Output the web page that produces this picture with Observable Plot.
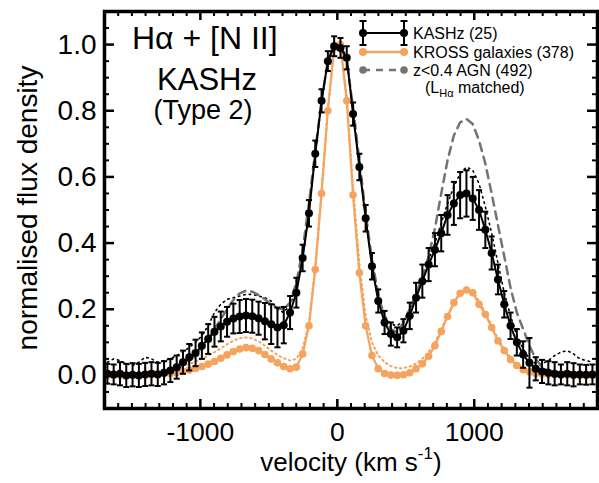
<!DOCTYPE html>
<html><head><meta charset="utf-8">
<script src="https://cdn.jsdelivr.net/npm/d3@7"></script>
<script src="https://cdn.jsdelivr.net/npm/@observablehq/plot@0.6"></script>
<style>body{margin:0;background:#fff;} #chart{width:599px;height:483px;}</style>
</head><body><div id="chart"></div>
<script>
const velocity = [-1679,-1633,-1587,-1541,-1495,-1449,-1403,-1357,-1311,-1265,-1219,-1173,-1127,-1081,-1035,-989,-943,-897,-851,-805,-759,-713,-667,-621,-575,-529,-483,-437,-391,-345,-299,-253,-207,-161,-115,-69,-23,23,69,115,161,207,253,299,345,391,437,483,529,575,621,667,713,759,805,851,897,943,989,1035,1081,1127,1173,1219,1265,1311,1357,1403,1449,1495,1541,1587,1633,1679,1725,1771,1817,1863];
const kashz = [0.005,0.003,0.005,0.0,0.002,0.0,0.003,0.005,0.003,0.008,0.015,0.025,0.04,0.055,0.068,0.09,0.11,0.132,0.148,0.162,0.172,0.178,0.181,0.179,0.173,0.164,0.155,0.145,0.152,0.19,0.25,0.355,0.49,0.67,0.83,0.95,0.995,0.99,0.96,0.79,0.63,0.475,0.33,0.225,0.16,0.125,0.115,0.135,0.18,0.235,0.285,0.335,0.38,0.43,0.485,0.52,0.545,0.55,0.535,0.5,0.44,0.37,0.29,0.215,0.15,0.1,0.063,0.038,0.02,0.012,0.008,0.005,0.003,0.005,0.002,0.003,0.002,0.003];
const kashzErr = [0.03,0.03,0.035,0.035,0.035,0.035,0.035,0.035,0.035,0.035,0.035,0.035,0.035,0.04,0.04,0.04,0.045,0.045,0.045,0.045,0.045,0.05,0.05,0.05,0.05,0.055,0.06,0.06,0.055,0.05,0.045,0.04,0.04,0.04,0.035,0.03,0.03,0.03,0.035,0.035,0.04,0.04,0.04,0.035,0.035,0.035,0.03,0.035,0.04,0.045,0.05,0.05,0.05,0.055,0.06,0.065,0.07,0.07,0.065,0.06,0.055,0.05,0.045,0.04,0.04,0.04,0.04,0.075,0.035,0.035,0.035,0.035,0.03,0.035,0.035,0.03,0.03,0.03];
const kashzDotted = [0.04,0.05,0.045,0.035,0.03,0.04,0.055,0.05,0.04,0.045,0.05,0.06,0.07,0.085,0.1,0.12,0.15,0.19,0.215,0.23,0.235,0.24,0.245,0.245,0.24,0.235,0.225,0.2,0.19,0.215,0.26,0.36,0.5,0.67,0.83,0.95,1.0,1.0,0.96,0.8,0.64,0.48,0.34,0.24,0.18,0.155,0.15,0.165,0.2,0.25,0.3,0.35,0.4,0.46,0.52,0.57,0.61,0.63,0.62,0.58,0.51,0.43,0.34,0.25,0.18,0.12,0.08,0.05,0.035,0.035,0.045,0.06,0.07,0.075,0.065,0.05,0.045,0.04];
const kross = [0.0,0.0,0.0,0.0,0.0,0.001,0.002,0.002,0.003,0.005,0.006,0.009,0.012,0.016,0.021,0.027,0.034,0.042,0.052,0.062,0.072,0.08,0.084,0.082,0.075,0.063,0.05,0.038,0.027,0.02,0.025,0.065,0.15,0.32,0.55,0.8,0.99,1.0,0.83,0.545,0.31,0.15,0.06,0.02,0.006,0.001,0.0,0.002,0.008,0.02,0.035,0.058,0.09,0.133,0.178,0.22,0.248,0.258,0.25,0.215,0.185,0.145,0.105,0.075,0.048,0.03,0.017,0.01,0.006,0.004,0.003,0.002,0.001,0.001,0.0,0.0,0.0,0.0];
const krossDotted = [0.005,0.005,0.005,0.006,0.007,0.008,0.01,0.012,0.014,0.017,0.02,0.024,0.029,0.035,0.042,0.05,0.06,0.07,0.082,0.094,0.105,0.112,0.115,0.112,0.103,0.09,0.075,0.062,0.052,0.045,0.05,0.08,0.16,0.33,0.56,0.81,0.99,1.0,0.84,0.57,0.34,0.18,0.1,0.06,0.04,0.028,0.022,0.022,0.027,0.036,0.05,0.07,0.1,0.14,0.18,0.22,0.25,0.263,0.255,0.225,0.19,0.15,0.11,0.08,0.055,0.036,0.024,0.016,0.012,0.01,0.008,0.007,0.006,0.006,0.005,0.005,0.005,0.005];
const agn = [0.0,0.0,0.0,0.0,0.0,0.0,0.001,0.002,0.003,0.006,0.01,0.018,0.03,0.045,0.062,0.085,0.11,0.14,0.17,0.2,0.228,0.248,0.256,0.253,0.243,0.23,0.215,0.203,0.2,0.22,0.28,0.38,0.52,0.68,0.83,0.95,1.0,0.995,0.95,0.81,0.65,0.49,0.35,0.245,0.175,0.14,0.13,0.16,0.2,0.245,0.295,0.36,0.445,0.55,0.65,0.725,0.765,0.775,0.76,0.71,0.64,0.55,0.455,0.36,0.265,0.19,0.14,0.09,0.05,0.025,0.013,0.007,0.003,0.0,0.0,0.0,0.0,0.0];
const xTicksMajor = [-1000, 0, 1000];
const xTicksMinor = [-1700,-1600,-1500,-1400,-1300,-1200,-1100,-900,-800,-700,-600,-500,-400,-300,-200,-100,100,200,300,400,500,600,700,800,900,1100,1200,1300,1400,1500,1600,1700,1800,1900];
const yTicksMajor = [0.0, 0.2, 0.4, 0.6, 0.8, 1.0];
const yTicksMinor = [-0.1,-0.05,0.05,0.1,0.15,0.25,0.3,0.35,0.45,0.5,0.55,0.65,0.7,0.75,0.85,0.9,0.95,1.05,1.1];
const seriesNames = ["KASHz (25)", "KROSS galaxies (378)", "z<0.4 AGN (492)"];

const ORANGE = "#f5a35d";
const GRAY = "#737373";
const FONT = "Liberation Sans, Arial, Helvetica, sans-serif";

const rows = velocity.map((v, i) => ({
  v, k: kashz[i], lo: kashz[i] - kashzErr[i], hi: kashz[i] + kashzErr[i],
  kd: kashzDotted[i], r: kross[i], rd: krossDotted[i], a: agn[i]
}));

const W = 599, H = 483, mL = 104, mR = 2, mT = 11, mB = 75;
const innerW = W - mL - mR, innerH = H - mT - mB;

const cap = {draw(ctx, size) { const w = Math.sqrt(size / Math.PI); ctx.moveTo(-w, 0); ctx.lineTo(w, 0); }};

const plot = Plot.plot({
  width: W, height: H,
  marginLeft: mL, marginRight: mR, marginTop: mT, marginBottom: mB,
  x: {domain: [-1700, 1900]},
  y: {domain: [-0.1, 1.1]},
  style: {fontFamily: FONT, background: "white", color: "black"},
  marks: [
    Plot.line(rows, {x: "v", y: "rd", stroke: ORANGE, strokeWidth: 2, strokeDasharray: "1.5,3.5"}),
    Plot.line(rows, {x: "v", y: "kd", stroke: "black", strokeWidth: 1.6, strokeDasharray: "1.5,4"}),
    Plot.line(rows, {x: "v", y: "a", stroke: GRAY, strokeWidth: 2.5, strokeDasharray: "8,6"}),
    Plot.line(rows, {x: "v", y: "r", stroke: ORANGE, strokeWidth: 2.2}),
    Plot.dot(rows, {x: "v", y: "r", fill: ORANGE, r: 3.8}),
    Plot.ruleX(rows, {x: "v", y1: "lo", y2: "hi", stroke: "black", strokeWidth: 2}),
    Plot.dot(rows, {x: "v", y: "hi", symbol: cap, r: 3, stroke: "black", strokeWidth: 2}),
    Plot.dot(rows, {x: "v", y: "lo", symbol: cap, r: 3, stroke: "black", strokeWidth: 2}),
    Plot.line(rows, {x: "v", y: "k", stroke: "black", strokeWidth: 2}),
    Plot.dot(rows, {x: "v", y: "k", fill: "black", r: 4}),
    Plot.ruleX(xTicksMajor, {x: d => d, insetTop: innerH - 9, stroke: "black", strokeWidth: 2.5}),
    Plot.ruleX(xTicksMajor, {x: d => d, insetBottom: innerH - 9, stroke: "black", strokeWidth: 2.5}),
    Plot.ruleX(xTicksMinor, {x: d => d, insetTop: innerH - 5, stroke: "black", strokeWidth: 2}),
    Plot.ruleX(xTicksMinor, {x: d => d, insetBottom: innerH - 5, stroke: "black", strokeWidth: 2}),
    Plot.ruleY(yTicksMajor, {y: d => d, insetRight: innerW - 10, stroke: "black", strokeWidth: 2.5}),
    Plot.ruleY(yTicksMajor, {y: d => d, insetLeft: innerW - 10, stroke: "black", strokeWidth: 2.5}),
    Plot.ruleY(yTicksMinor, {y: d => d, insetRight: innerW - 5, stroke: "black", strokeWidth: 2}),
    Plot.ruleY(yTicksMinor, {y: d => d, insetLeft: innerW - 5, stroke: "black", strokeWidth: 2}),
    Plot.axisX({ticks: xTicksMajor, tickSize: 0, tickPadding: 14, fontSize: 26.5, tickFormat: d => String(d), label: null}),
    Plot.axisY({ticks: yTicksMajor, tickSize: 0, tickPadding: 8, fontSize: 28, tickFormat: d => d.toFixed(1), label: null}),
    Plot.frame({stroke: "black", strokeWidth: 3.5})
  ]
});
document.getElementById("chart").appendChild(plot);

const svg = d3.select(plot);
const g = svg.append("g").attr("font-family", FONT).attr("fill", "black").attr("text-anchor", "start");

// axis titles
g.append("text").attr("transform", "translate(37,208) rotate(-90)").attr("text-anchor", "middle")
  .attr("font-size", 28).text("normalised flux density");
const xt = g.append("text").attr("x", 351).attr("y", 471).attr("text-anchor", "middle").attr("font-size", 26);
xt.append("tspan").text("velocity (km s");
xt.append("tspan").attr("font-size", 17).attr("dy", -12).text("-1");
xt.append("tspan").attr("dy", 12).text(")");

// panel titles
g.append("text").attr("x", 132).attr("y", 49).attr("font-size", 32).text("H\u03b1 + [N II]");
g.append("text").attr("x", 207).attr("y", 90).attr("text-anchor", "middle").attr("font-size", 31).text("KASHz");
g.append("text").attr("x", 203).attr("y", 119).attr("text-anchor", "middle").attr("font-size", 27).text("(Type 2)");

// legend
const lx1 = 363, lx2 = 404, tx = 413, fs = 16;
const rowsY = [33, 52, 70];
[lx1, lx2].forEach(x => {
  g.append("line").attr("x1", x).attr("x2", x).attr("y1", rowsY[0] - 12).attr("y2", rowsY[0] + 12).attr("stroke", "black").attr("stroke-width", 2);
  [rowsY[0] - 12, rowsY[0] + 12].forEach(y => g.append("line").attr("x1", x - 3.5).attr("x2", x + 3.5).attr("y1", y).attr("y2", y).attr("stroke", "black").attr("stroke-width", 2));
});
g.append("line").attr("x1", lx1).attr("x2", lx2).attr("y1", rowsY[0]).attr("y2", rowsY[0]).attr("stroke", "black").attr("stroke-width", 2);
[lx1, lx2].forEach(x => g.append("circle").attr("cx", x).attr("cy", rowsY[0]).attr("r", 4).attr("fill", "black"));
g.append("line").attr("x1", lx1).attr("x2", lx2).attr("y1", rowsY[1]).attr("y2", rowsY[1]).attr("stroke", ORANGE).attr("stroke-width", 2.5);
[lx1, lx2].forEach(x => g.append("circle").attr("cx", x).attr("cy", rowsY[1]).attr("r", 4).attr("fill", ORANGE));
g.append("line").attr("x1", lx1).attr("x2", lx2).attr("y1", rowsY[2]).attr("y2", rowsY[2]).attr("stroke", GRAY).attr("stroke-width", 2.5).attr("stroke-dasharray", "7,6");
[lx1, lx2].forEach(x => g.append("circle").attr("cx", x).attr("cy", rowsY[2]).attr("r", 3.8).attr("fill", GRAY));
seriesNames.forEach((s, i) => g.append("text").attr("x", tx).attr("y", rowsY[i]).attr("dy", "0.36em").attr("font-size", fs).text(s));
const l4 = g.append("text").attr("x", 425).attr("y", 93).attr("font-size", fs);
l4.append("tspan").text("(L");
l4.append("tspan").attr("font-size", 11).attr("dy", 4).text("H\u03b1");
l4.append("tspan").attr("dy", -4).text(" matched)");
</script>
</body></html>
